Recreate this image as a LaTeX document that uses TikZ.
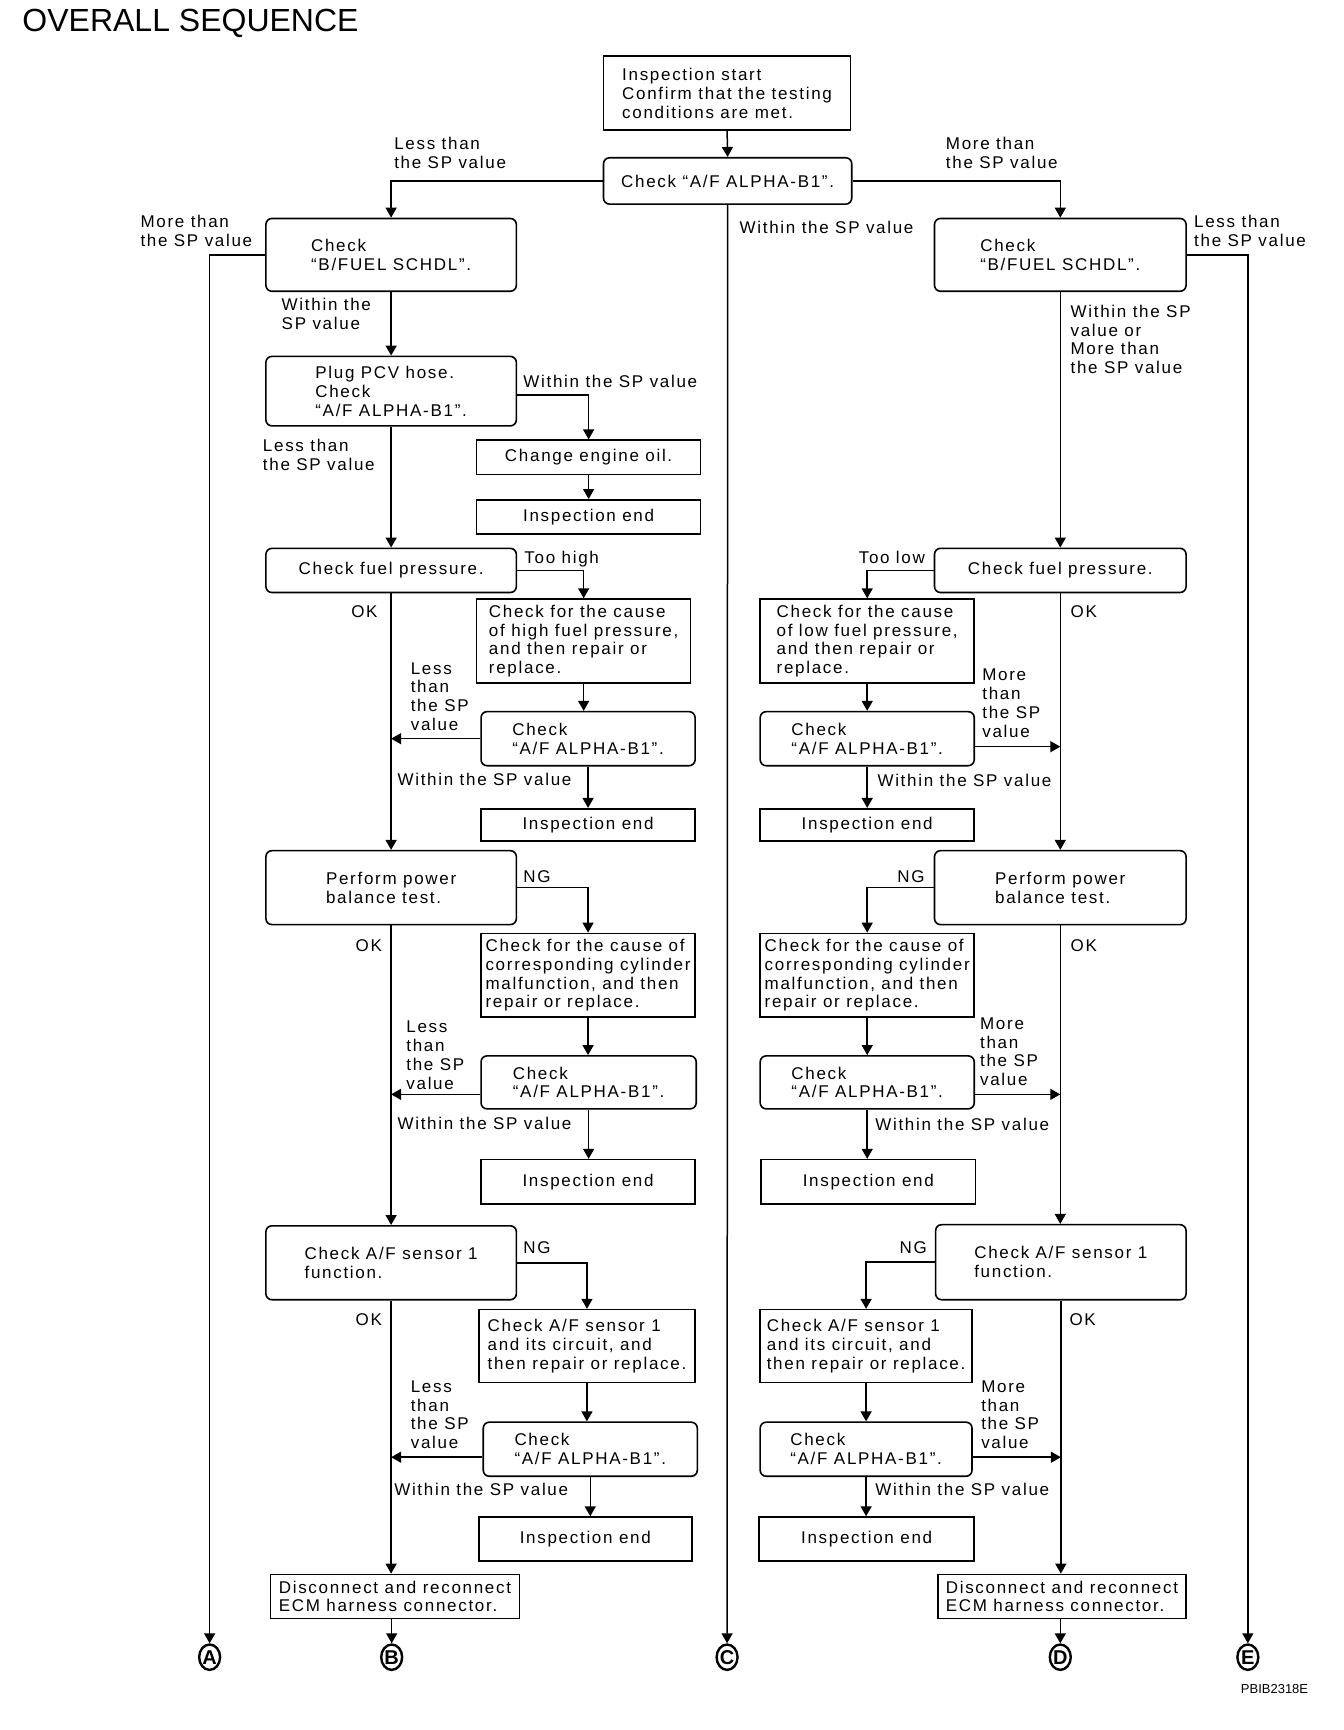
\documentclass[tikz,border=0pt]{standalone}
\usepackage{fontspec}
\setmainfont{Liberation Sans}[LetterSpace=10]
\newfontfamily\titlefont{Liberation Sans}
\usetikzlibrary{arrows.meta,shapes.geometric}

\begin{document}
\begin{tikzpicture}[
    x=0.5517pt, y=-0.5517pt,
    every node/.style={font=\fontsize{8.5}{9.4}\selectfont},
    sz/.style 2 args={minimum width=#1*0.5517pt, minimum height=#2*0.5517pt},
    rbox/.style={draw, line width=0.8pt, rounded corners=3pt, align=left, inner sep=0pt},
    sbox/.style={draw, line width=0.8pt, align=left, inner sep=0pt},
    lbl/.style={anchor=north west, align=left, inner sep=0pt},
    flow/.style={-{Triangle[length=5pt,width=5.5pt]}, line width=0.75pt},
    conn/.style={draw, ellipse, line width=1.2pt, minimum width=19*0.5517pt, minimum height=23*0.5517pt, inner sep=0pt, font=\fontsize{10}{10}\selectfont\bfseries},
  ]
  \useasboundingbox (0,0) rectangle (1218,1568);
  \node[anchor=west, inner sep=0pt, font=\titlefont\fontsize{16}{16}\selectfont] (title) at (20,21) {OVERALL SEQUENCE};

  % top
  \node[sbox, sz={224}{67}] (start) at (659,84.5) {Inspection start\\Confirm that the testing\\conditions are met.};
  \node[rbox, sz={225}{42}] (chk) at (659.5,164) {Check “A/F ALPHA-B1”.};
  \node[rbox, sz={227}{66}] (bfL) at (354.5,231) {Check\\“B/FUEL SCHDL”.};
  \node[rbox, sz={228}{66}] (bfR) at (961,231) {Check\\“B/FUEL SCHDL”.};

  % left column
  \node[rbox, sz={227}{63}] (pcv) at (354.5,354.5) {Plug PCV hose.\\Check\\“A/F ALPHA-B1”.};
  \node[sbox, sz={203}{31}] (oil) at (533.5,414.5) {Change engine oil.};
  \node[sbox, sz={203}{31}] (endOil) at (533.5,468.5) {Inspection end};
  \node[rbox, sz={227}{40}] (fpL) at (354.5,517) {Check fuel pressure.};
  \node[sbox, sz={194}{76}] (hiP) at (529,581) {Check for the cause\\of high fuel pressure,\\and then repair or\\replace.};
  \node[rbox, sz={194}{49}] (afL1) at (533,669.5) {Check\\“A/F ALPHA-B1”.};
  \node[sbox, sz={194}{29}] (endL1) at (533,747.5) {Inspection end};
  \node[rbox, sz={227}{67}] (pbL) at (354.5,804.5) {Perform power\\balance test.};
  \node[sbox, sz={194}{76}] (cylL) at (533,884) {Check for the cause of\\corresponding cylinder\\malfunction, and then\\repair or replace.};
  \node[rbox, sz={195}{48}] (afL2) at (533.5,981) {Check\\“A/F ALPHA-B1”.};
  \node[sbox, sz={194}{40}] (endL2) at (533,1071) {Inspection end};
  \node[rbox, sz={227}{67}] (sensL) at (354.5,1144.5) {Check A/F sensor 1\\function.};
  \node[sbox, sz={196}{66}] (circL) at (532,1220) {Check A/F sensor 1\\and its circuit, and\\then repair or replace.};
  \node[rbox, sz={194}{49}] (afL3) at (535,1313.5) {Check\\“A/F ALPHA-B1”.};
  \node[sbox, sz={193}{40}] (endL3) at (530.5,1395) {Inspection end};
  \node[sbox, sz={226}{40}] (discL) at (358,1447) {Disconnect and reconnect\\ECM harness connector.};

  % right column
  \node[rbox, sz={228}{40}] (fpR) at (961,517) {Check fuel pressure.};
  \node[sbox, sz={194}{76}] (loP) at (786,581) {Check for the cause\\of low fuel pressure,\\and then repair or\\replace.};
  \node[rbox, sz={194}{49}] (afR1) at (786,669.5) {Check\\“A/F ALPHA-B1”.};
  \node[sbox, sz={194}{29}] (endR1) at (786,747.5) {Inspection end};
  \node[rbox, sz={228}{67}] (pbR) at (961,804.5) {Perform power\\balance test.};
  \node[sbox, sz={194}{76}] (cylR) at (786,884) {Check for the cause of\\corresponding cylinder\\malfunction, and then\\repair or replace.};
  \node[rbox, sz={194}{48}] (afR2) at (786,981) {Check\\“A/F ALPHA-B1”.};
  \node[sbox, sz={194}{40}] (endR2) at (787,1071) {Inspection end};
  \node[rbox, sz={227}{68}] (sensR) at (961.5,1144) {Check A/F sensor 1\\function.};
  \node[sbox, sz={192}{66}] (circR) at (785,1220) {Check A/F sensor 1\\and its circuit, and\\then repair or replace.};
  \node[rbox, sz={192}{49}] (afR3) at (785,1313.5) {Check\\“A/F ALPHA-B1”.};
  \node[sbox, sz={195}{40}] (endR3) at (785.5,1395) {Inspection end};
  \node[sbox, sz={225}{40}] (discR) at (962.5,1447) {Disconnect and reconnect\\ECM harness connector.};

  % connectors
  \node[conn] (cA) at (190,1502) {A};
  \node[conn] (cB) at (355,1502) {B};
  \node[conn] (cC) at (659,1502) {C};
  \node[conn] (cD) at (961,1502) {D};
  \node[conn] (cE) at (1131,1502) {E};
  \node[anchor=east, inner sep=0pt, font=\titlefont\fontsize{6.5}{7}\selectfont] (code) at (1186,1531) {PBIB2318E};

  % arrows, top
  \draw[flow] (start.south) -- (chk.north);
  \draw[flow] (chk.west) -| (bfL.north);
  \draw[flow] (chk.east) -| (bfR.north);
  \draw[flow] (chk.south) -- (cC.north);
  \draw[flow] (bfL.west) -| (cA.north);
  \draw[flow] (bfR.east) -| (cE.north);

  % arrows, left
  \draw[flow] (bfL.south) -- (pcv.north);
  \draw[flow] ([yshift=-2pt]pcv.east) -| (oil.north);
  \draw[flow] (oil.south) -- (endOil.north);
  \draw[flow] (pcv.south) -- (fpL.north);
  \draw[flow] (fpL.east) -| (hiP.north);
  \draw[flow] (hiP.south) -- (hiP.south |- afL1.north);
  \draw[flow] (afL1.west) -- (afL1.west -| fpL.south);
  \draw[flow] (afL1.south) -- (afL1.south |- endL1.north);
  \draw[flow] (fpL.south) -- (pbL.north);
  \draw[flow] (pbL.east) -| (cylL.north);
  \draw[flow] (cylL.south) -- (cylL.south |- afL2.north);
  \draw[flow] ([yshift=-6pt]afL2.west) -- ([yshift=-6pt]afL2.west -| pbL.south);
  \draw[flow] (afL2.south) -- (afL2.south |- endL2.north);
  \draw[flow] (pbL.south) -- (sensL.north);
  \draw[flow] (sensL.east) -| (circL.north);
  \draw[flow] (circL.south) -- (circL.south |- afL3.north);
  \draw[flow] ([yshift=-4pt]afL3.west) -- ([yshift=-4pt]afL3.west -| sensL.south);
  \draw[flow] (afL3.south) -- (afL3.south |- endL3.north);
  \draw[flow] (sensL.south) -- (sensL.south |- discL.north);
  \draw[flow] (cB |- discL.south) -- (cB.north);

  % arrows, right
  \draw[flow] (bfR.south) -- (fpR.north);
  \draw[flow] (fpR.west) -| (loP.north);
  \draw[flow] (loP.south) -- (loP.south |- afR1.north);
  \draw[flow] ([yshift=-4pt]afR1.east) -- ([yshift=-4pt]afR1.east -| fpR.south);
  \draw[flow] (afR1.south) -- (afR1.south |- endR1.north);
  \draw[flow] (fpR.south) -- (pbR.north);
  \draw[flow] (pbR.west) -| (cylR.north);
  \draw[flow] (cylR.south) -- (cylR.south |- afR2.north);
  \draw[flow] ([yshift=-6pt]afR2.east) -- ([yshift=-6pt]afR2.east -| pbR.south);
  \draw[flow] (afR2.south) -- (afR2.south |- endR2.north);
  \draw[flow] (pbR.south) -- (pbR.south |- sensR.north);
  \draw[flow] (sensR.west) -| (circR.north);
  \draw[flow] (circR.south) -- (circR.south |- afR3.north);
  \draw[flow] ([yshift=-4pt]afR3.east) -- ([yshift=-4pt]afR3.east -| sensR.south);
  \draw[flow] (afR3.south) -- (afR3.south |- endR3.north);
  \draw[flow] (sensR.south) -- (sensR.south |- discR.north);
  \draw[flow] (cD |- discR.south) -- (cD.north);

  % branch labels
  \node[lbl] at (357,124) {Less than\\the SP value};
  \node[lbl] at (857,124) {More than\\the SP value};
  \node[lbl] at (670,200) {Within the SP value};
  \node[lbl] at (127,195) {More than\\the SP value};
  \node[lbl] at (255,270) {Within the\\SP value};
  \node[lbl] at (1082,195) {Less than\\the SP value};
  \node[lbl] at (970,276) {Within the SP\\value or\\More than\\the SP value};
  \node[lbl] at (474,340) {Within the SP value};
  \node[lbl] at (238,398) {Less than\\the SP value};
  \node[lbl] at (475,499) {Too high};
  \node[lbl] at (318,549) {OK};
  \node[lbl] at (372,600) {Less\\than\\the SP\\value};
  \node[lbl] at (360,700) {Within the SP value};
  \node[lbl] at (778,499) {Too low};
  \node[lbl] at (970,549) {OK};
  \node[lbl] at (890,606) {More\\than\\the SP\\value};
  \node[lbl] at (795,701) {Within the SP value};
  \node[lbl] at (474,789) {NG};
  \node[lbl] at (322,851) {OK};
  \node[lbl] at (368,925) {Less\\than\\the SP\\value};
  \node[lbl] at (360,1012) {Within the SP value};
  \node[lbl] at (813,789) {NG};
  \node[lbl] at (970,851) {OK};
  \node[lbl] at (888,922) {More\\than\\the SP\\value};
  \node[lbl] at (793,1013) {Within the SP value};
  \node[lbl] at (474,1125) {NG};
  \node[lbl] at (322,1190) {OK};
  \node[lbl] at (372,1251) {Less\\than\\the SP\\value};
  \node[lbl] at (357,1344) {Within the SP value};
  \node[lbl] at (815,1125) {NG};
  \node[lbl] at (969,1190) {OK};
  \node[lbl] at (889,1251) {More\\than\\the SP\\value};
  \node[lbl] at (793,1344) {Within the SP value};
\end{tikzpicture}
\end{document}
